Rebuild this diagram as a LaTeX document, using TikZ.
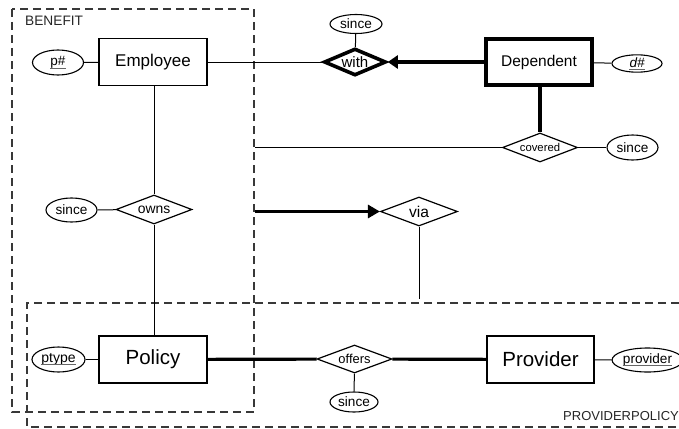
\documentclass[tikz,border=0pt]{standalone}
\usepackage{fontspec}
\setmainfont{Liberation Sans}
\usetikzlibrary{shapes.geometric,arrows.meta}
\newcommand{\fs}[1]{\fontsize{#1}{#1}\selectfont}
\newcommand{\uln}[1]{\tikz[baseline=(t.base)]{\node[rectangle, draw=none, minimum width=0pt, minimum height=0pt, inner sep=0pt] (t) {#1}; \draw[line width=0.6pt, black!60] ([yshift=-2.2pt]t.base west) -- ([yshift=-2.2pt]t.base east);}}
\tikzset{
  ent/.style={draw, line width=1.3pt, rectangle, inner sep=0pt, minimum width=108pt, minimum height=47pt},
  attr/.style={draw, line width=1.1pt, ellipse, inner sep=0pt, font=\fs{13.6}},
  rel/.style={draw, line width=1.2pt, diamond, aspect=2.6, inner sep=0pt},
  thin/.style={line width=1pt},
  thick2/.style={line width=3.2pt},
  grp/.style={draw=black!78, line width=1.2pt, dash pattern=on 8pt off 5pt},
}
\begin{document}
\begin{tikzpicture}[x=1pt,y=-1pt]
\useasboundingbox (0,0) rectangle (679,428);
% group boxes
\draw[grp] (12,9) rectangle (254,412);
\draw[grp] (679,303) -- (27,303) -- (27,427) -- (679,427);
\node[anchor=west, font=\fs{13.7}, text=black!85, inner sep=0pt] (lbenefit) at (25,20.5) {BENEFIT};
\node[anchor=east, font=\fs{13}, text=black!85, inner sep=0pt] (lpp) at (679,416.5) {PROVIDERPOLICY};
% entities
\node[ent, font=\fs{17}] (emp) at (153,62) {Employee};
\node[ent, line width=4pt, minimum width=106pt, minimum height=46pt, font=\fs{15.5}] (dep) at (539,62) {Dependent};
\node[ent, font=\fs{20.5}] (pol) at (153,359.5) {Policy};
\node[ent, minimum width=107pt, font=\fs{20.5}] (prov) at (540.5,359.5) {Provider};
% relationships
\node[rel, line width=3.6pt, minimum width=62pt, minimum height=27pt, font=\fs{15}] (with) at (355,62) {with};
\node[rel, minimum width=75pt, minimum height=29pt, font=\fs{11.3}] (covered) at (540,147.5) {covered};
\node[rel, minimum width=77pt, minimum height=29pt, font=\fs{15.6}] (via) at (419,211.5) {via};
\node[rel, minimum width=76pt, minimum height=29pt, font=\fs{13.9}] (owns) at (154,209.5) {owns};
\node[rel, minimum width=75pt, minimum height=28pt, font=\fs{12.9}] (offers) at (354.5,359) {offers};
% attributes
\node[attr, minimum width=51pt, minimum height=25pt, font=\fs{13.5}] (pnum) at (58,62.5) {\uln{p\#}};
\node[attr, minimum width=52pt, minimum height=19pt] (since1) at (356,24) {since};
\node[attr, minimum width=50pt, minimum height=17pt, font=\fs{13.5}\itshape] (dnum) at (637,63.5) {\uln{d\#}};
\node[attr, minimum width=51pt, minimum height=25pt] (since2) at (632.5,147.5) {since};
\node[attr, minimum width=51pt, minimum height=24pt] (since3) at (71.5,210) {since};
\node[attr, minimum width=53pt, minimum height=25pt, font=\fs{14}] (ptype) at (58.5,359.5) {\uln{ptype}};
\node[attr, minimum width=48pt, minimum height=20pt] (since4) at (354,402) {since};
\node[attr, minimum width=59pt, minimum height=24pt] (provider) at (647.5,360) {\uln{provider}};
% free ends
\coordinate (cov-end) at (255,147.5);
\coordinate (via-start) at (255,211.5);
\coordinate (via-end) at (419,299);
% connectors
\draw[thin] (pnum) -- (emp);
\draw[thin] (emp) -- (with);
\draw[thin] (since1) -- (with);
\draw[line width=3.2pt, -{Triangle[length=10pt,width=13pt]}] (dep.west) -- (with.east);
\draw[thin] (dep) -- (dnum);
\draw[thick2] (dep.south -| covered.north) -- (covered.north);
\draw[thin] (covered) -- (since2);
\draw[thin] (covered.west) -- (cov-end);
\draw[line width=3.5pt, -{Triangle[length=12pt,width=13pt]}] (via-start) -- (via.west);
\draw[thin] (via.south) -- (via-end);
\draw[thin] (emp.south -| owns.north) -- (owns.north);
\draw[thin] (owns.south) -- (owns.south |- pol.north);
\draw[thin] (since3) -- (owns);
\draw[thin] (ptype) -- (pol);
\draw[thick2] (pol) -- (offers);
\draw[thick2] (offers) -- (prov);
\draw[thin] (offers) -- (since4);
\draw[thin] (prov) -- (provider);
\end{tikzpicture}
\end{document}
